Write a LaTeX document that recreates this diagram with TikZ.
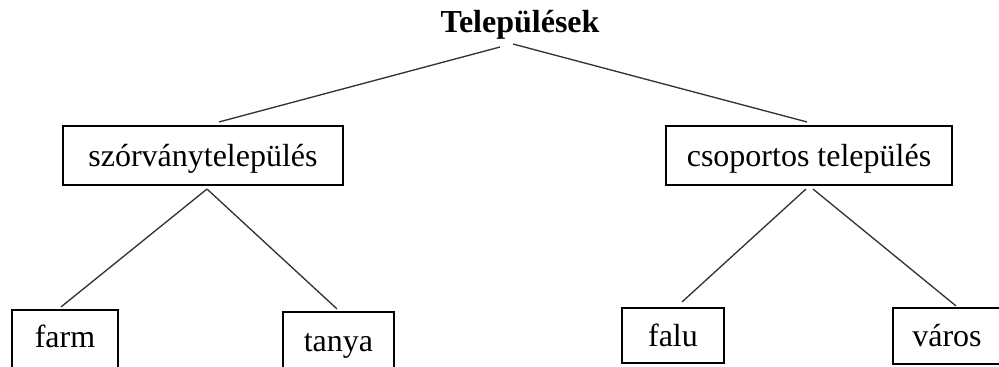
\documentclass[tikz,border=0pt]{standalone}
\usepackage{fontspec}
\setmainfont{Liberation Serif}
\usetikzlibrary{calc}

\begin{document}
\begin{tikzpicture}[x=0.375pt,y=-0.375pt,font=\fontsize{12}{14}\selectfont,
    box/.style={draw,line width=0.8pt,inner sep=0pt,text height=9pt,text depth=0.8pt},
    link/.style={line width=0.5pt,black!80}]
  \useasboundingbox (0,0) rectangle (999,367);
  \clip (0,0) rectangle (999,367);
  % root
  \node[font=\fontsize{12}{14}\selectfont\bfseries,anchor=base,inner sep=1pt] (T) at (520,33) {Települések};
  % second level
  \node[box,minimum width=105pt,minimum height=22.1pt]    (SZ) at (203,155.5) {szórványtelepülés};
  \node[box,minimum width=107.25pt,minimum height=22.1pt] (CS) at (809,155.5) {csoportos település};
  % leaves (the two on the left run past the lower edge)
  \node[box,minimum width=39.75pt,minimum height=22.5pt,text depth=3pt]  (farm)  at (65,340)  {farm};
  \node[box,minimum width=41.6pt,minimum height=22.5pt,text depth=2.2pt] (tanya) at (338.5,342) {tanya};
  \node[box,minimum width=38.25pt,minimum height=20.6pt]  (falu)  at (673,335.5) {falu};
  \node[box,minimum width=40.5pt,minimum height=21pt]     (varos) at (947,336)   {város};
  % connectors
  \draw[link] ($(T.south)+(-20,4)$)  -- ($(SZ.north)+(16,-3)$);
  \draw[link] ($(T.south)+(-7,1)$)   -- ($(CS.north)+(-2,-3)$);
  \draw[link] ($(SZ.south)+(4,3)$)   -- ($(farm.north)+(-4,-2)$);
  \draw[link] ($(SZ.south)+(4,3)$)   -- ($(tanya.north)+(-1.5,-2)$);
  \draw[link] ($(CS.south)+(-3,3)$)  -- ($(falu.north)+(9,-5)$);
  \draw[link] ($(CS.south)+(4,3)$)   -- ($(varos.north)+(9,-1)$);
\end{tikzpicture}
\end{document}
